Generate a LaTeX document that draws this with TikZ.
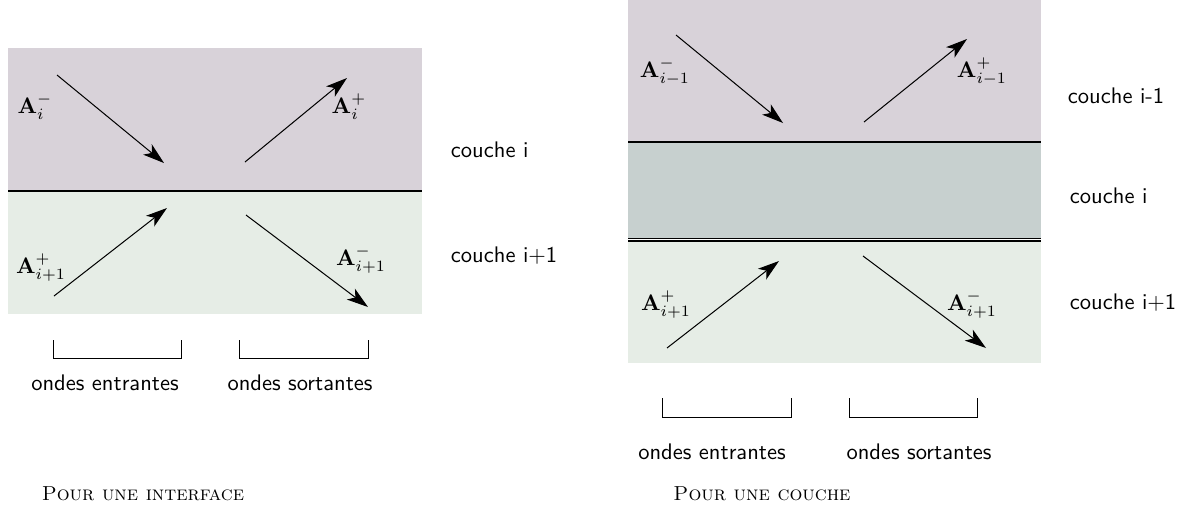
\documentclass[tikz,border=0pt]{standalone}
\usepackage{amsmath, amssymb}
\usepackage{xcolor}
\usetikzlibrary{arrows.meta}
\definecolor{couchehaut}{HTML}{D8D2D9}
\definecolor{couchemil}{HTML}{C7D0CF}
\definecolor{couchebas}{HTML}{E6EDE6}
\tikzset
{
  onde/.style={draw=black,line width=0.45pt,-{Stealth[length=9.5pt,width=6pt,inset=2.5pt]}},
  interf/.style={draw=black,line width=0.8pt},
  crochet/.style={draw=black,line width=0.4pt},
  amp/.style={font=\normalsize},
  nomcouche/.style={anchor=west,font=\sffamily},
  legende/.style={font=\sffamily},
  titre/.style={font=\small\scshape}
}

\begin{document}
\begin{tikzpicture}[x=0.444pt,y=-0.444pt]
        \useasboundingbox (0,0) rectangle (1187,520);

        % Draw layers (interface)
        \fill[couchehaut] (8,48) rectangle (422,191);
        \fill[couchebas] (8,191) rectangle (422,314);
        \draw[interf] (8,191) -- (422,191);

        % Draw waves (interface)
        \coordinate (ia1) at (57,75);   \coordinate (ib1) at (164,163);
        \coordinate (ia2) at (245,162); \coordinate (ib2) at (347,78);
        \coordinate (ia3) at (54,296);  \coordinate (ib3) at (167,208);
        \coordinate (ia4) at (246,215); \coordinate (ib4) at (368,307);
        \draw[onde] (ia1) -- (ib1);
        \draw[onde] (ia2) -- (ib2);
        \draw[onde] (ia3) -- (ib3);
        \draw[onde] (ia4) -- (ib4);
        \node[amp] (iAm) at (35,107) {$\mathbf{A}_i^-$};
        \node[amp] (iAp) at (349,107) {$\mathbf{A}_i^+$};
        \node[amp] (iBp) at (41,268) {$\mathbf{A}_{i+1}^+$};
        \node[amp] (iBm) at (361,260) {$\mathbf{A}_{i+1}^-$};

        % Layer names (interface)
        \node[nomcouche] (ic1) at (443,150) {couche i};
        \node[nomcouche] (ic2) at (443,256) {couche i+1};

        % Brackets and captions (interface)
        \draw[crochet] (53,340) -- (53,358) -- (181,358) -- (181,340);
        \draw[crochet] (239,340) -- (239,358) -- (368,358) -- (368,340);
        \node[legende] (ient) at (105,383) {ondes entrantes};
        \node[legende] (isor) at (300,383) {ondes sortantes};
        \node[titre] (itit) at (143,494) {Pour une interface};

        % Draw layers (couche)
        \fill[couchehaut] (628,0) rectangle (1041,142);
        \fill[couchemil] (628,142) rectangle (1041,239);
        \fill[couchebas] (628,241) rectangle (1041,363);
        \draw[interf] (628,142) -- (1041,142);
        \draw[crochet,line width=0.7pt] (628,238.6) -- (1041,238.6);
        \draw[crochet,line width=0.7pt] (628,241.2) -- (1041,241.2);

        % Draw waves (couche)
        \coordinate (ca1) at (676,35);  \coordinate (cb1) at (783,123);
        \coordinate (ca2) at (864,122); \coordinate (cb2) at (967,39);
        \coordinate (ca3) at (667,348); \coordinate (cb3) at (779,261);
        \coordinate (ca4) at (863,256); \coordinate (cb4) at (986,348);
        \draw[onde] (ca1) -- (cb1);
        \draw[onde] (ca2) -- (cb2);
        \draw[onde] (ca3) -- (cb3);
        \draw[onde] (ca4) -- (cb4);
        \node[amp] (cAm) at (665,72) {$\mathbf{A}_{i-1}^-$};
        \node[amp] (cAp) at (982,72) {$\mathbf{A}_{i-1}^+$};
        \node[amp] (cBp) at (666,305) {$\mathbf{A}_{i+1}^+$};
        \node[amp] (cBm) at (972,305) {$\mathbf{A}_{i+1}^-$};

        % Layer names (couche)
        \node[nomcouche] (cc1) at (1060,96) {couche i-1};
        \node[nomcouche] (cc2) at (1062,196) {couche i};
        \node[nomcouche] (cc3) at (1062,303) {couche i+1};

        % Brackets and captions (couche)
        \draw[crochet] (662,398) -- (662,417) -- (791,417) -- (791,398);
        \draw[crochet] (849,398) -- (849,417) -- (977,417) -- (977,398);
        \node[legende] (cent) at (712,452) {ondes entrantes};
        \node[legende] (csor) at (919,452) {ondes sortantes};
        \node[titre] (ctit) at (762,494) {Pour une couche};
\end{tikzpicture}
\end{document}
